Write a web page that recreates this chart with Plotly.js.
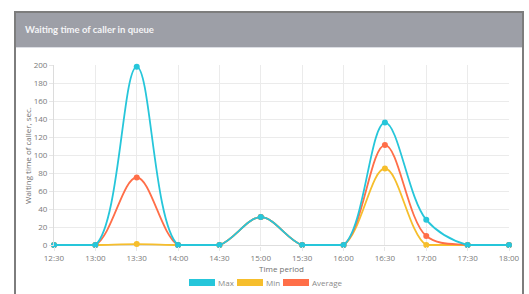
<!DOCTYPE html>
<html>
<head>
<meta charset="utf-8">
<script src="https://cdn.plot.ly/plotly-3.0.1.min.js"></script>
<style>
  html, body { margin: 0; padding: 0; background: #ffffff; overflow: hidden; }
  #wrap { position: relative; width: 529px; height: 294px; }
  .frame { position: absolute; background: #7d7d7d; }
  #header { position: absolute; left: 16px; top: 13px; width: 506px; height: 34px; background: #9d9fa7; }
  #hline { position: absolute; left: 16px; top: 47px; width: 506px; height: 1px; background: #dcdee4; }
  #chart { position: absolute; left: 0; top: 0; width: 529px; height: 294px; }
</style>
</head>
<body>
<div id="wrap">
  <div class="frame" style="left:14px;top:11px;width:2px;height:283px;"></div>
  <div class="frame" style="left:14px;top:11px;width:510px;height:2px;"></div>
  <div class="frame" style="left:522px;top:11px;width:2px;height:283px;"></div>
  <div id="header"></div>
  <div id="hline"></div>
  <div id="chart"></div>
</div>
<script>
// ---- data ----
var times = ["12:30", "13:00", "13:30", "14:00", "14:30", "15:00", "15:30", "16:00", "16:30", "17:00", "17:30", "18:00"];
var maxValues = [0, 0, 198, 0, 0, 31, 0, 0, 136, 28, 0, 0];
var minValues = [0, 0, 1, 0, 0, 31, 0, 0, 85, 0, 0, 0];
var avgValues = [0, 0, 75, 0, 0, 31, 0, 0, 111, 10, 0, 0];
var seriesNames = ["Max", "Min", "Average"];
var yTicks = [0, 20, 40, 60, 80, 100, 120, 140, 160, 180, 200];
var chartTitle = "Waiting time of caller in queue";
var xTitle = "Time period";
var yTitle = "Waiting time of caller, sec.";

// ---- styles ----
var colors = { "Max": "#26c6da", "Min": "#f6be2c", "Average": "#ff6e48" };
var tickFont = { family: "Open Sans, sans-serif", size: 8, color: "#7a7a7a" };
var seriesVals = { "Max": maxValues, "Min": minValues, "Average": avgValues };

function splineTrace(name) {
  return {
    x: times, y: seriesVals[name], name: name, type: "scatter", mode: "lines+markers",
    line: { color: colors[name], width: 1.8, shape: "spline", smoothing: 1 },
    marker: { color: colors[name], size: 6 },
    cliponaxis: false, showlegend: false, hoverinfo: "skip"
  };
}
// flat runs at zero (the curve is clamped to the chart floor there, as in the original)
function floorTrace(name) {
  return {
    x: times, y: seriesVals[name].map(function (v) { return v === 0 ? v : null; }),
    type: "scatter", mode: "lines", connectgaps: false,
    line: { color: colors[name], width: 1.8 },
    cliponaxis: false, showlegend: false, hoverinfo: "skip"
  };
}
// draw order: Min, Average, then Max on top
var traces = [];
["Min", "Average", "Max"].forEach(function (n) { traces.push(floorTrace(n)); traces.push(splineTrace(n)); });

// ---- legend drawn as boxes + text (pixel layout converted to paper coords) ----
var L = 54, R = 20, T = 65, B = 48, W = 529, H = 294;
var pw = W - L - R, ph = H - T - B;
function px2x(p) { return (p - L) / pw; }
function py2y(p) { return (H - B - p) / ph; }
var legendBoxX = [189, 237, 283];
var shapes = [], annotations = [];
seriesNames.forEach(function (n, i) {
  var x0 = legendBoxX[i];
  shapes.push({ type: "rect", xref: "paper", yref: "paper",
    x0: px2x(x0), x1: px2x(x0 + 26), y0: py2y(286), y1: py2y(279),
    fillcolor: colors[n], line: { width: 0 } });
  annotations.push({ xref: "paper", yref: "paper", x: px2x(x0 + 28), y: py2y(282.5),
    xanchor: "left", yanchor: "middle", showarrow: false, text: n, borderpad: 0,
    font: { family: "Open Sans, sans-serif", size: 8, color: "#8a8a8a" } });
});

var layout = {
  width: W, height: H,
  margin: { l: L, r: R, t: T, b: B, pad: 0 },
  paper_bgcolor: "rgba(0,0,0,0)", plot_bgcolor: "rgba(0,0,0,0)",
  showlegend: false,
  title: { text: chartTitle, x: 25 / W, xanchor: "left", xref: "container",
    y: 1 - 29.5 / H, yref: "container", yanchor: "middle",
    font: { family: "Lato, sans-serif", size: 9.5, color: "#f4f4f6", weight: "bold" } },
  xaxis: {
    type: "category", range: [0, times.length - 1], categoryorder: "array", categoryarray: times,
    showgrid: true, gridcolor: "#ebebeb", gridwidth: 1,
    ticks: "outside", ticklen: 4, tickcolor: "#e6e6e6",
    tickfont: tickFont, showline: false, zeroline: false, fixedrange: true,
    title: { text: xTitle, font: { family: "Open Sans, sans-serif", size: 8, color: "#6f6f6f" }, standoff: 4 }
  },
  yaxis: {
    range: [-1.1, 200], tickvals: yTicks, ticktext: yTicks.map(String),
    showgrid: true, gridcolor: "#ebebeb", gridwidth: 1,
    zeroline: true, zerolinecolor: "#dedede", zerolinewidth: 1,
    showline: true, linecolor: "#dcdcdc", linewidth: 1,
    ticks: "outside", ticklen: 4, tickcolor: "#e6e6e6",
    tickfont: tickFont, fixedrange: true,
    title: { text: yTitle, font: { family: "Open Sans, sans-serif", size: 8, color: "#6f6f6f" }, standoff: 0 }
  },
  shapes: shapes,
  annotations: annotations
};

Plotly.newPlot("chart", traces, layout, { staticPlot: true, displayModeBar: false });
</script>
</body>
</html>
